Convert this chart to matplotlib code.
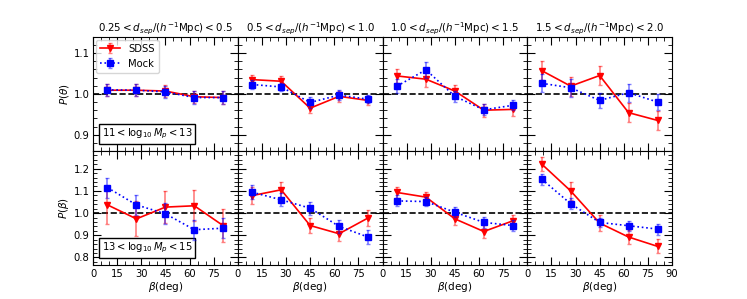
import matplotlib.pyplot as plt
from matplotlib.ticker import MultipleLocator

beta = [9, 27, 45, 63, 81]

titles = [r"$0.25 < d_{sep}/(h^{-1}{\rm Mpc}) < 0.5$",
          r"$0.5 < d_{sep}/(h^{-1}{\rm Mpc}) < 1.0$",
          r"$1.0 < d_{sep}/(h^{-1}{\rm Mpc}) < 1.5$",
          r"$1.5 < d_{sep}/(h^{-1}{\rm Mpc}) < 2.0$"]
mass_labels = [r"$11 < \log_{10}M_p < 13$", r"$13 < \log_{10}M_p < 15$"]
ylabels = [r"$P(\theta)$", r"$P(\beta)$"]

# top row: P(theta), 11 < log Mp < 13
sdss_top = [[1.009, 1.009, 1.007, 0.993, 0.991],
            [1.035, 1.031, 0.965, 0.994, 0.984],
            [1.044, 1.036, 1.007, 0.960, 0.962],
            [1.057, 1.019, 1.045, 0.954, 0.935]]
sdss_top_err = [[0.015, 0.015, 0.015, 0.015, 0.015],
                [0.012, 0.012, 0.013, 0.013, 0.012],
                [0.018, 0.020, 0.016, 0.016, 0.016],
                [0.024, 0.023, 0.024, 0.024, 0.024]]
mock_top = [[1.010, 1.009, 1.005, 0.991, 0.991],
            [1.023, 1.017, 0.979, 0.997, 0.987],
            [1.019, 1.059, 0.994, 0.961, 0.972],
            [1.026, 1.015, 0.984, 1.003, 0.980]]
mock_top_err = [[0.015, 0.015, 0.015, 0.015, 0.015],
                [0.010, 0.010, 0.013, 0.012, 0.010],
                [0.017, 0.019, 0.013, 0.013, 0.012],
                [0.022, 0.022, 0.018, 0.022, 0.020]]

# bottom row: P(beta), 13 < log Mp < 15
sdss_bot = [[1.037, 0.974, 1.027, 1.033, 0.943],
            [1.079, 1.105, 0.944, 0.907, 0.978],
            [1.093, 1.072, 0.974, 0.917, 0.965],
            [1.221, 1.100, 0.955, 0.892, 0.850]]
sdss_bot_err = [[0.084, 0.079, 0.072, 0.070, 0.075],
                [0.040, 0.034, 0.034, 0.034, 0.037],
                [0.025, 0.025, 0.027, 0.030, 0.025],
                [0.030, 0.040, 0.035, 0.032, 0.032]]
mock_bot = [[1.115, 1.037, 0.997, 0.925, 0.932],
            [1.094, 1.060, 1.022, 0.940, 0.892],
            [1.055, 1.052, 1.004, 0.958, 0.944],
            [1.153, 1.042, 0.958, 0.943, 0.928]]
mock_bot_err = [[0.045, 0.045, 0.048, 0.045, 0.045],
                [0.032, 0.030, 0.030, 0.030, 0.030],
                [0.025, 0.022, 0.022, 0.025, 0.025],
                [0.025, 0.025, 0.022, 0.022, 0.025]]

sdss = [sdss_top, sdss_bot]
sdss_err = [sdss_top_err, sdss_bot_err]
mock = [mock_top, mock_bot]
mock_err = [mock_top_err, mock_bot_err]
ylims = [(0.86, 1.14), (0.765, 1.28)]

fs = 7.2

fig, axes = plt.subplots(2, 4, figsize=(7.47, 2.99), dpi=100, sharey='row')
fig.subplots_adjust(left=0.1245, right=0.8996, top=0.877, bottom=0.113,
                    wspace=0, hspace=0)

for r in range(2):
    for c in range(4):
        ax = axes[r, c]
        ax.axhline(1.0, color="k", ls="--", lw=1.2, zorder=1)
        ax.errorbar(beta, sdss[r][c], yerr=sdss_err[r][c], color="red",
                    ecolor=(1, 0, 0, 0.5), marker="v", ms=4.5, ls="-",
                    lw=1.2, capsize=1.5, elinewidth=1.2, label="SDSS", zorder=3)
        ax.errorbar(beta, mock[r][c], yerr=mock_err[r][c], color="blue",
                    ecolor=(0, 0, 1, 0.5), marker="s", ms=4.5, ls=":",
                    lw=1.2, capsize=1.5, elinewidth=1.2, label="Mock", zorder=4)
        ax.set_xlim(0, 90)
        ax.set_ylim(*ylims[r])
        ax.xaxis.set_major_locator(MultipleLocator(15))
        ax.xaxis.set_minor_locator(MultipleLocator(5))
        ax.yaxis.set_major_locator(MultipleLocator(0.1))
        ax.yaxis.set_minor_locator(MultipleLocator(0.02))
        ax.tick_params(which="both", direction="in", top=True, right=True,
                       labelsize=fs, pad=2.5)
        ax.tick_params(which="major", length=6)
        ax.tick_params(which="minor", length=3)
        if r == 0:
            ax.set_title(titles[c], fontsize=fs + 0.2, pad=3)
            ax.tick_params(labelbottom=False)
        else:
            ax.set_xlabel(r"$\beta$(deg)", fontsize=fs + 0.3, labelpad=1)
            if c < 3:
                ax.set_xticks([0, 15, 30, 45, 60, 75])
            else:
                ax.set_xticks([0, 15, 30, 45, 60, 75, 90])
        if c == 0:
            ax.set_ylabel(ylabels[r], fontsize=fs + 0.3, labelpad=2)
            ax.text(0.06, 0.13, mass_labels[r], transform=ax.transAxes, fontsize=fs,
                    bbox=dict(facecolor="white", edgecolor="k", boxstyle="square,pad=0.3"))
        if r == 0 and c == 0:
            ax.legend(loc="upper left", fontsize=fs, handlelength=2.0,
                      borderaxespad=0.3, fancybox=True)

plt.savefig("out.png", dpi=100)
